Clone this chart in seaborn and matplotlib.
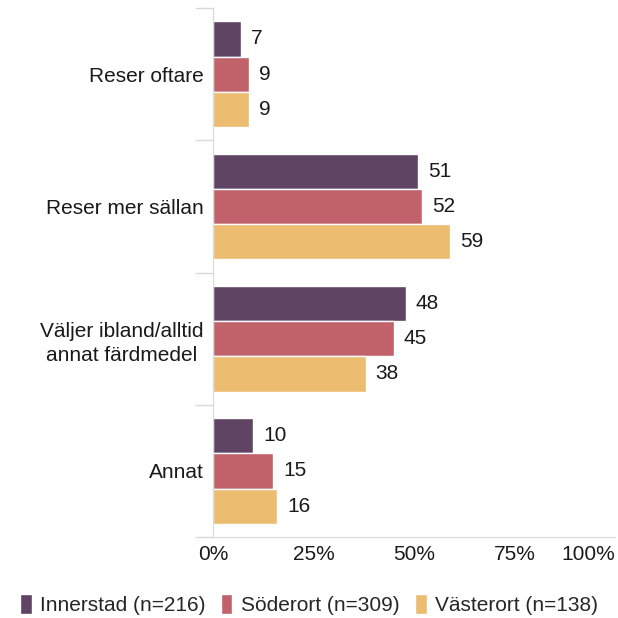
import matplotlib
matplotlib.use("Agg")
import matplotlib.pyplot as plt
import seaborn as sns
import pandas as pd
from matplotlib.ticker import FixedLocator, PercentFormatter

categories = ["Reser oftare", "Reser mer sällan", "Väljer ibland/alltid\nannat färdmedel", "Annat"]
groups = ["Innerstad (n=216)", "Söderort (n=309)", "Västerort (n=138)"]
innerstad = [7, 51, 48, 10]
soderort = [9, 52, 45, 15]
vasterort = [9, 59, 38, 16]
colors = ["#5f4463", "#c1626b", "#ecbc70"]

rows = []
for g, vals in zip(groups, [innerstad, soderort, vasterort]):
    for c, v in zip(categories, vals):
        rows.append({"kategori": c, "grupp": g, "andel": v})
df = pd.DataFrame(rows)

sns.set_style("white")
plt.rcParams["font.family"] = ["Liberation Sans", "DejaVu Sans"]

fig = plt.figure(figsize=(6.18, 6.18), dpi=100)
ax = fig.add_axes([0.345, 0.131, 0.650, 0.856])
sns.barplot(data=df, y="kategori", x="andel", hue="grupp", palette=colors,
            order=categories, hue_order=groups, width=0.8, saturation=1,
            edgecolor="white", linewidth=1, ax=ax, legend=True)

for cont in ax.containers:
    ax.bar_label(cont, fmt="%d", padding=7, fontsize=15, color="#1a1a1a")

ax.set_xlim(0, 100)
ax.set_ylim(len(categories) - 0.5, -0.5)
ax.xaxis.set_major_locator(FixedLocator([0, 25, 50, 75, 100]))
ax.xaxis.set_major_formatter(PercentFormatter(decimals=0))
ax.set_xlabel("")
ax.set_ylabel("")
ax.tick_params(axis="x", length=0, labelsize=15, pad=6, colors="#1a1a1a")
ax.tick_params(axis="y", which="major", left=False, length=0, labelsize=15, pad=7, colors="#1a1a1a")
ax.yaxis.set_minor_locator(FixedLocator([i - 0.5 for i in range(len(categories) + 1)]))
ax.tick_params(axis="y", which="minor", left=True, length=13, width=1, color="#d9d9d9")
for lab in ax.get_yticklabels():
    lab.set_horizontalalignment("right")
    lab.set_multialignment("center")
    lab.set_linespacing(1.35)
xlabs = ax.get_xticklabels()
xlabs[-1].set_horizontalalignment("right")

for s in ["top", "right"]:
    ax.spines[s].set_visible(False)
ax.spines["left"].set_color("#d9d9d9")
ax.spines["bottom"].set_color("#d9d9d9")

ax.legend_.remove()
handles, labels = ax.get_legend_handles_labels()
fig.legend(handles, labels, loc="center", bbox_to_anchor=(0.5, 0.022), ncol=3,
           frameon=False, fontsize=15, handlelength=0.55, handleheight=1.1,
           handletextpad=0.4, columnspacing=0.75)

fig.savefig("out.png", dpi=100)
